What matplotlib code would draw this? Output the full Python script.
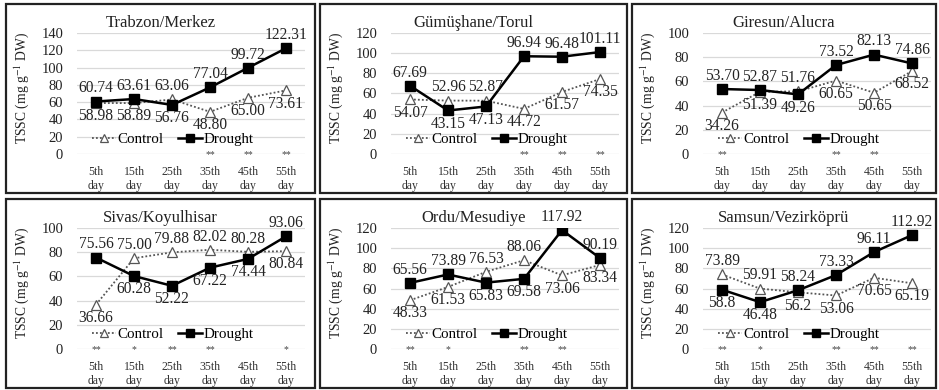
import matplotlib
matplotlib.use("Agg")
import matplotlib.pyplot as plt
from matplotlib.patches import Rectangle

plt.rcParams["font.family"] = ["Liberation Serif", "DejaVu Serif"]
plt.rcParams["mathtext.fontset"] = "stix"

days = ["5th\nday", "15th\nday", "25th\nday", "35th\nday", "45th\nday", "55th\nday"]

titles = ["Trabzon/Merkez", "Gümüşhane/Torul", "Giresun/Alucra",
          "Sivas/Koyulhisar", "Ordu/Mesudiye", "Samsun/Vezirköprü"]

control = [
    [58.98, 58.89, 63.06, 48.80, 65.00, 73.61],
    [54.07, 52.96, 52.87, 44.72, 61.57, 74.35],
    [34.26, 51.39, 51.76, 60.65, 50.65, 68.52],
    [36.66, 75.00, 79.88, 82.02, 80.28, 80.84],
    [48.33, 61.53, 76.53, 88.06, 73.06, 83.34],
    [73.89, 59.91, 56.2, 53.06, 70.65, 65.19],
]
drought = [
    [60.74, 63.61, 56.76, 77.04, 99.72, 122.31],
    [67.69, 43.15, 47.13, 96.94, 96.48, 101.11],
    [53.70, 52.87, 49.26, 73.52, 82.13, 74.86],
    [75.56, 60.28, 52.22, 67.22, 74.44, 93.06],
    [65.56, 73.89, 65.83, 69.58, 117.92, 90.19],
    [58.8, 46.48, 58.24, 73.33, 96.11, 112.92],
]
# labels as printed (keeps trailing zeros / short forms)
control_lbl = [
    ["58.98", "58.89", "63.06", "48.80", "65.00", "73.61"],
    ["54.07", "52.96", "52.87", "44.72", "61.57", "74.35"],
    ["34.26", "51.39", "51.76", "60.65", "50.65", "68.52"],
    ["36.66", "75.00", "79.88", "82.02", "80.28", "80.84"],
    ["48.33", "61.53", "76.53", "88.06", "73.06", "83.34"],
    ["73.89", "59.91", "56.2", "53.06", "70.65", "65.19"],
]
drought_lbl = [
    ["60.74", "63.61", "56.76", "77.04", "99.72", "122.31"],
    ["67.69", "43.15", "47.13", "96.94", "96.48", "101.11"],
    ["53.70", "52.87", "49.26", "73.52", "82.13", "74.86"],
    ["75.56", "60.28", "52.22", "67.22", "74.44", "93.06"],
    ["65.56", "73.89", "65.83", "69.58", "117.92", "90.19"],
    ["58.8", "46.48", "58.24", "73.33", "96.11", "112.92"],
]
stars = [
    ["", "", "", "**", "**", "**"],
    ["", "", "", "**", "**", "**"],
    ["**", "", "", "**", "**", ""],
    ["**", "*", "**", "**", "", "*"],
    ["**", "*", "", "**", "**", ""],
    ["**", "*", "", "**", "**", "**"],
]
ymax = [140, 120, 100, 100, 120, 120]

W, H = 939, 390
fig = plt.figure(figsize=(W / 100, H / 100), dpi=100)

panel_x = [6, 320, 632]
panel_w = [309, 307, 304]
panel_y = [4, 199]
panel_h = 189

for i in range(6):
    r, c = divmod(i, 3)
    px, py, pw = panel_x[c], panel_y[r], panel_w[c]
    fig.add_artist(Rectangle((px / W, 1 - (py + panel_h) / H), pw / W, panel_h / H,
                             transform=fig.transFigure, fill=False, lw=1.6, ec="#222222"))
    ax = fig.add_axes([(px + 71) / W, 1 - (py + 150) / H, 228 / W, 121 / H])
    x = list(range(6))
    ax.plot(x, control[i], ls=(0, (1, 1.2)), color="#555555", lw=1.3, marker="^",
            ms=6.5, mfc="white", mec="#555555", mew=0.9, label="Control", zorder=3)
    ax.plot(x, drought[i], ls="-", color="black", lw=1.8, marker="s",
            ms=6.5, mfc="black", mec="black", label="Drought", zorder=4)
    for j in x:
        for val, lbl, other in ((control[i][j], control_lbl[i][j], drought[i][j]),
                                (drought[i][j], drought_lbl[i][j], control[i][j])):
            off = 9.5 if val >= other else -9.5
            ax.annotate(lbl, (j, val), xytext=(0, off), textcoords="offset points",
                        ha="center", va="center", fontsize=11.2, color="#222222", zorder=5)
        if stars[i][j]:
            ax.text(j, -0.005, stars[i][j], transform=ax.get_xaxis_transform(),
                    ha="center", va="center", fontsize=7, color="#444444")
    ax.set_xlim(-0.5, 5.5)
    ax.set_ylim(0, ymax[i])
    ax.set_yticks(range(0, ymax[i] + 1, 20))
    ax.set_xticks(x)
    ax.set_xticklabels(days, fontsize=8.5, linespacing=1.2, color="#333333")
    ax.tick_params(axis="x", length=0, pad=9)
    ax.tick_params(axis="y", length=0, pad=10, labelsize=10.5, labelcolor="#222222")
    for s in ax.spines.values():
        s.set_visible(False)
    ax.grid(axis="y", color="#d9d9d9", lw=0.9)
    ax.set_axisbelow(True)
    ax.legend(loc="center", bbox_to_anchor=(0.42, 0.12), ncol=2, frameon=False,
              fontsize=10.8, handlelength=1.6, handletextpad=0.1, columnspacing=1.0,
              markerscale=0.8, borderpad=0, borderaxespad=0)
    fig.text((px + pw / 2) / W, 1 - (py + 19) / H, titles[i], ha="center", va="center",
             fontsize=12, color="#222222")
    fig.text((px + 16) / W, 1 - (py + 84) / H, "TSSC (mg g$^{-1}$ DW)", rotation=90,
             ha="center", va="center", fontsize=9.8, color="#222222")

fig.savefig("out.png", dpi=100)
